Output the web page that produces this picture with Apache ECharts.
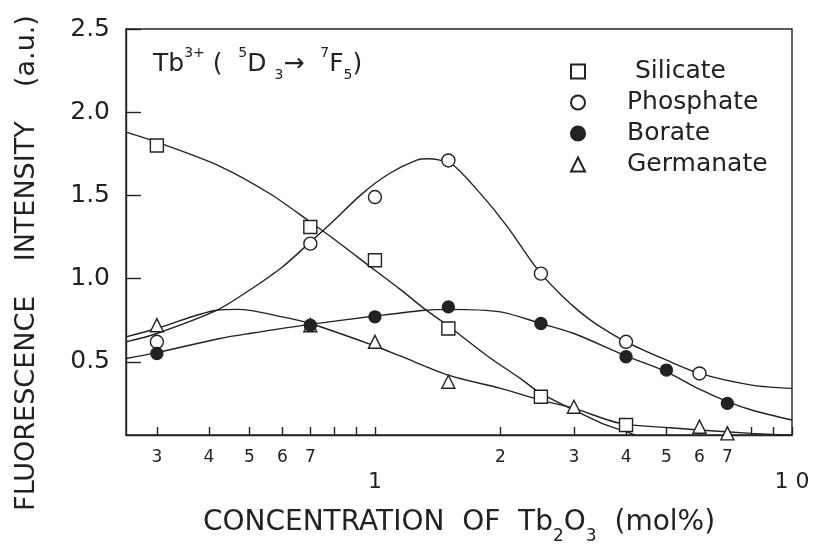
<!DOCTYPE html>
<html>
<head>
<meta charset="utf-8">
<script src="https://cdn.jsdelivr.net/npm/echarts@6/dist/echarts.min.js"></script>
<style>
  html, body { margin: 0; padding: 0; background: #fff; }
  #chart { width: 818px; height: 550px; }
</style>
</head>
<body>
<div id="chart"></div>
<script>
// ---- tick / label values ----
const xTickValues = [0.3, 0.4, 0.5, 0.6, 0.7, 0.8, 0.9, 1, 2, 3, 4, 5, 6, 7, 8, 9, 10];
const xLabelValues = [0.3, 0.4, 0.5, 0.6, 0.7, 1, 2, 3, 4, 5, 6, 7, 10];
const yLabelValues = [0.5, 1.0, 1.5, 2.0, 2.5];

// ---- measured points ----
const silicateX = [0.3, 0.7, 1.0, 1.5, 2.5, 4.0];
const silicateY = [1.80, 1.31, 1.11, 0.70, 0.29, 0.12];
const phosphateX = [0.3, 0.7, 1.0, 1.5, 2.5, 4.0, 6.0];
const phosphateY = [0.62, 1.21, 1.49, 1.71, 1.03, 0.62, 0.43];
const borateX = [0.3, 0.7, 1.0, 1.5, 2.5, 4.0, 5.0, 7.0];
const borateY = [0.55, 0.72, 0.77, 0.83, 0.73, 0.53, 0.45, 0.25];
const germanateX = [0.3, 0.7, 1.0, 1.5, 3.0, 6.0, 7.0];
const germanateY = [0.72, 0.72, 0.62, 0.38, 0.23, 0.11, 0.07];

// ---- fitted curves ----
const silicateCurveX = [0.253, 0.3, 0.425, 0.56, 0.7, 0.8, 1.0, 1.15, 1.32, 1.5, 1.86, 2.23, 2.5, 3.0, 3.5, 4.0, 4.2];
const silicateCurveY = [1.88, 1.82, 1.675, 1.51, 1.34, 1.235, 1.05, 0.935, 0.815, 0.715, 0.535, 0.40, 0.31, 0.21, 0.13, 0.08, 0.06];
const phosphateCurveX = [0.253, 0.3, 0.418, 0.5, 0.6, 0.7, 0.78, 0.937, 1.086, 1.26, 1.34, 1.43, 1.54, 1.785, 2.07, 2.35, 2.5, 2.8, 3.1, 3.4, 4.0, 5.0, 6.0, 8.0, 10];
const phosphateCurveY = [0.62, 0.67, 0.81, 0.93, 1.07, 1.22, 1.327, 1.515, 1.633, 1.712, 1.72, 1.712, 1.683, 1.515, 1.317, 1.119, 1.03, 0.90, 0.80, 0.725, 0.62, 0.51, 0.43, 0.36, 0.34];
const borateCurveX = [0.253, 0.3, 0.425, 0.5, 0.7, 1.0, 1.32, 1.5, 2.0, 2.5, 3.0, 4.0, 5.0, 6.0, 7.0, 8.0, 10];
const borateCurveY = [0.52, 0.555, 0.64, 0.67, 0.725, 0.775, 0.81, 0.815, 0.80, 0.73, 0.67, 0.535, 0.44, 0.335, 0.26, 0.21, 0.15];
const germanateCurveX = [0.253, 0.3, 0.418, 0.47, 0.6, 0.7, 1.0, 1.15, 1.5, 2.0, 2.5, 3.0, 3.87, 5.0, 6.0, 8.0, 10];
const germanateCurveY = [0.65, 0.70, 0.81, 0.815, 0.77, 0.73, 0.595, 0.535, 0.42, 0.34, 0.27, 0.22, 0.13, 0.105, 0.09, 0.07, 0.06];

const INK = '#222';
const FONT = 'DejaVu Sans';

function pairs(xs, ys) { return xs.map((x, i) => [x, ys[i]]); }

function curve(name, xs, ys) {
  return {
    name: name + ' fit', type: 'line', smooth: 0.3, symbol: 'none', silent: true,
    lineStyle: { color: INK, width: 1.4 }, data: pairs(xs, ys), z: 2
  };
}

function points(name, xs, ys, symbol, size, filled) {
  return {
    name: name, type: 'scatter', symbol: symbol, symbolSize: size,
    itemStyle: { color: filled ? INK : '#fff', borderColor: INK, borderWidth: 1.4, opacity: 1 },
    data: pairs(xs, ys), z: 5
  };
}

const chart = echarts.init(document.getElementById('chart'), null, { renderer: 'canvas' });

chart.setOption({
  backgroundColor: '#fff',
  animation: false,
  textStyle: { fontFamily: FONT, color: INK },
  grid: { left: 126, right: 26, top: 29, bottom: 110, show: true, borderColor: INK, borderWidth: 1.4, backgroundColor: 'transparent' },
  xAxis: {
    type: 'log', logBase: 10, min: 0.253, max: 10,
    axisLine: { show: true, lineStyle: { color: INK, width: 1.4 } },
    splitLine: { show: false },
    minorTick: { show: false },
    axisTick: { show: true, inside: true, length: 8, lineStyle: { color: INK, width: 1.4 }, customValues: xTickValues },
    axisLabel: {
      customValues: xLabelValues, margin: 14, fontSize: 17, fontFamily: FONT, color: INK,
      formatter: function (v) {
        const r = Math.round(v * 100) / 100;
        if (r === 1) return '{d|1}';
        if (r === 10) return '{d|1 0}';
        if (r < 1) return String(Math.round(r * 10));
        return String(r);
      },
      rich: { d: { fontSize: 22, fontFamily: FONT, color: INK, padding: [22, 0, 0, 0] } }
    },
    name: 'CONCENTRATION  OF  Tb{s|2}O{s|3}  (mol%)',
    nameLocation: 'middle', nameGap: 66,
    nameTextStyle: {
      fontSize: 28, fontFamily: FONT, color: INK, lineHeight: 44,
      rich: { s: { fontSize: 17, fontFamily: FONT, color: INK, verticalAlign: 'bottom', lineHeight: 17 } }
    }
  },
  yAxis: {
    type: 'value', min: 0.06, max: 2.5,
    axisLine: { show: true, lineStyle: { color: INK, width: 1.4 } },
    splitLine: { show: false },
    axisTick: { show: true, inside: true, length: 15, lineStyle: { color: INK, width: 1.4 }, customValues: yLabelValues },
    axisLabel: {
      customValues: yLabelValues, margin: 16, fontSize: 25, fontFamily: FONT, color: INK,
      formatter: function (v) { return v.toFixed(1); }
    },
    name: 'FLUORESCENCE    INTENSITY    (a.u.)',
    nameLocation: 'middle', nameRotate: 90, nameGap: 86,
    nameTextStyle: { fontSize: 27, fontFamily: FONT, color: INK, padding: [0, 62, 0, 0] }
  },
  legend: {
    orient: 'vertical', left: 565, top: 51,
    itemWidth: 14, itemHeight: 14, itemGap: 0,
    data: ['Silicate', 'Phosphate', 'Borate', 'Germanate'],
    formatter: function (n) { return n === 'Silicate' ? ' ' + n : n; },
    textStyle: { fontSize: 25, fontFamily: FONT, color: INK, lineHeight: 31, padding: [0, 0, 0, 37] },
    selectedMode: false
  },
  graphic: [{
    type: 'text', left: 153, top: 46, silent: true,
    style: {
      text: '{m|Tb}{p|3+}{m| (  }{p|5}{m|D }{b|3}{m|\u2192  }{p|7}{m|F}{b|5}{m|)}',
      fontFamily: FONT, fill: INK,
      rich: {
        m: { fontSize: 25, fontFamily: FONT, fill: INK, lineHeight: 36 },
        p: { fontSize: 14, fontFamily: FONT, fill: INK, verticalAlign: 'top', lineHeight: 14 },
        b: { fontSize: 14, fontFamily: FONT, fill: INK, verticalAlign: 'bottom', lineHeight: 14 }
      }
    }
  }],
  series: [
    curve('Silicate', silicateCurveX, silicateCurveY),
    curve('Phosphate', phosphateCurveX, phosphateCurveY),
    curve('Borate', borateCurveX, borateCurveY),
    curve('Germanate', germanateCurveX, germanateCurveY),
    points('Germanate', germanateX, germanateY, 'triangle', 13, false),
    points('Silicate', silicateX, silicateY, 'rect', 13, false),
    points('Phosphate', phosphateX, phosphateY, 'circle', 13, false),
    points('Borate', borateX, borateY, 'circle', 12, true)
  ]
});
</script>
</body>
</html>
